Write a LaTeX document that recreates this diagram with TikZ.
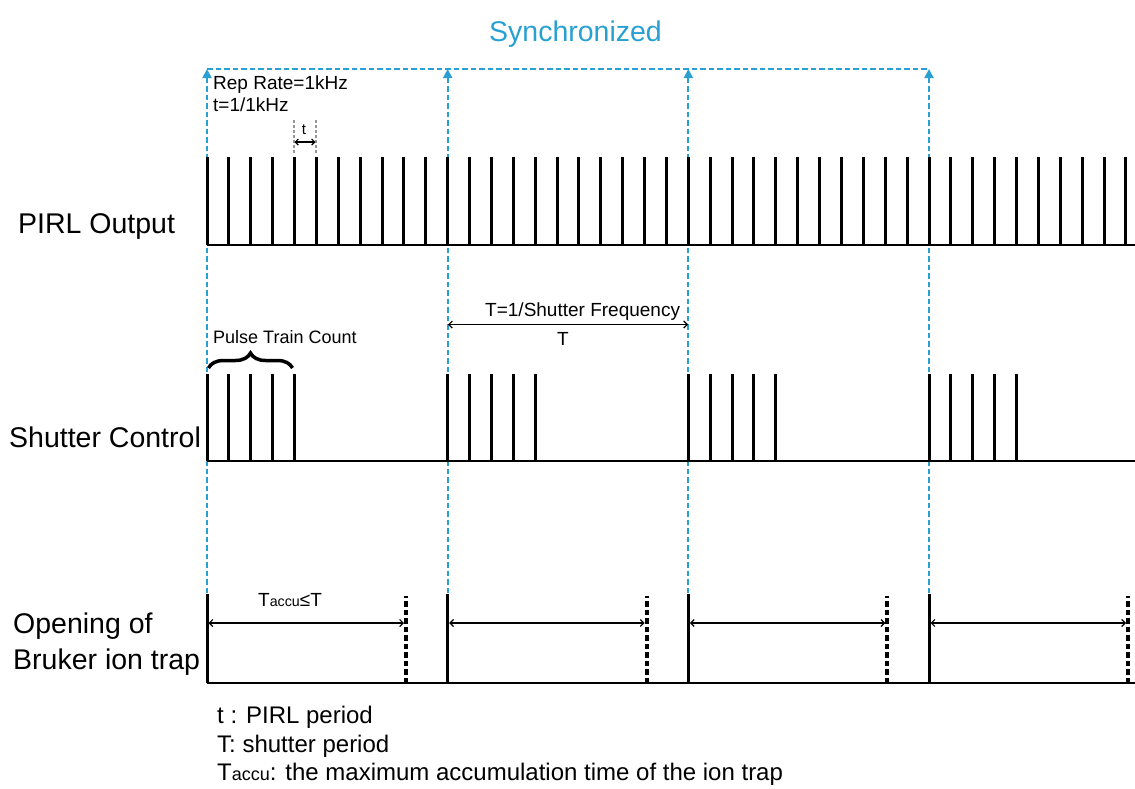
\documentclass[tikz,border=0pt]{standalone}
\usepackage{fontspec}
\setmainfont{Liberation Sans}
\usetikzlibrary{arrows.meta,decorations.pathreplacing}
\definecolor{syncblue}{RGB}{41,160,210}
\definecolor{markgray}{RGB}{150,150,150}
\newcommand{\fsz}[1]{\fontsize{#1}{#1}\selectfont}
\newcommand{\acc}{\scalebox{0.75}{accu}}
\begin{document}
\begin{tikzpicture}[x=1pt,y=-1pt,
  syncline/.style={draw=syncblue,line width=1.8pt,dash pattern=on 5.5pt off 3pt},
  synctip/.style={-{Triangle[width=9pt,length=9pt,fill=syncblue]}},
  pulse/.style={line width=3pt},
  axisline/.style={line width=2pt},
  stopline/.style={line width=4pt,dash pattern=on 5.5pt off 3pt},
  span/.style={line width=1.2pt,{Straight Barb[length=3.5pt,width=7pt]}-{Straight Barb[length=3.5pt,width=7pt]}},
  lbl/.style={inner sep=0pt,anchor=base west},
  ctr/.style={inner sep=0pt,anchor=base},
]
\useasboundingbox (0,0) rectangle (1135,788);

% --- synchronisation markers
\foreach \i in {0,1,2,3} {
  \pgfmathsetmacro\sx{207+\i*240.667}
  \coordinate (sb\i) at (\sx,593);
  \coordinate (st\i) at (\sx,69);
}
\draw[syncline] (st0) -- (st3);
\foreach \i in {0,1,2,3} {
  \draw[syncline,synctip] (sb\i) -- (st\i);
}
\node[ctr,font=\fsz{28.5},text=syncblue] (sync) at (575.5,41.5) {Synchronized};

% --- PIRL output
\coordinate (pa) at (207,245);
\coordinate (pb) at (1135,245);
\draw[axisline] (pa) -- (pb);
\foreach \k in {0,...,42} {
  \pgfmathsetmacro\px{207+\k*21.879}
  \draw[pulse] (\px,245) -- (\px,157);
}
\node[lbl,font=\fsz{28.5}] (pirl) at (18,233) {PIRL Output};
\node[lbl,font=\fsz{19}] (rep) at (213,89.5) {Rep Rate=1kHz};
\node[lbl,font=\fsz{19}] (tdef) at (213,111.7) {t=1/1kHz};

% period t marker
\coordinate (ta1) at (294,120);
\coordinate (tb1) at (294,153);
\coordinate (ta2) at (316,120);
\coordinate (tb2) at (316,153);
\draw[markgray,line width=1.2pt,dash pattern=on 3pt off 2pt] (ta1) -- (tb1) (ta2) -- (tb2);
\coordinate (tl1) at (294.5,142);
\coordinate (tl2) at (315.5,142);
\draw[line width=1.2pt,{Straight Barb[length=3pt,width=6pt]}-{Straight Barb[length=3pt,width=6pt]}] (tl1) -- (tl2);
\node[ctr,font=\fsz{15}] (tlab) at (304,134) {t};

% --- Shutter control
\coordinate (sa) at (207,461);
\coordinate (sbe) at (1135,461);
\draw[axisline] (sa) -- (sbe);
\foreach \i in {0,1,2,3} {
  \foreach \k in {0,...,4} {
    \pgfmathsetmacro\px{207+\i*240.667+\k*21.879}
    \draw[pulse] (\px,461) -- (\px,374);
  }
}
\node[lbl,font=\fsz{28.5}] (shut) at (9,447) {Shutter Control};
\coordinate (br1) at (208.5,368);
\coordinate (br2) at (292.5,368);
\draw[line width=3.5pt,decorate,decoration={brace,amplitude=15pt}] (br1) -- (br2);
\node[lbl,font=\fsz{18}] (ptc) at (213,343) {Pulse Train Count};

% shutter period
\coordinate (T1) at (448,324.5);
\coordinate (T2) at (688,324.5);
\draw[span] (T1) -- (T2);
\node[lbl,font=\fsz{19}] (tfreq) at (485,316.7) {T=1/Shutter Frequency};
\node[ctr,font=\fsz{19}] (Tlab) at (563,345) {T};

% --- Bruker ion trap
\coordinate (ba) at (207,683);
\coordinate (bb) at (1135,683);
\draw[axisline] (ba) -- (bb);
\foreach \i in {0,1,2,3} {
  \pgfmathsetmacro\sx{207+\i*240.667}
  \pgfmathsetmacro\ex{\sx+199}
  \draw[pulse] (\sx,683) -- (\sx,594);
  \draw[stopline] (\ex,683) -- (\ex,596);
  \coordinate (acc\i a) at (\sx+1.5,623);
  \coordinate (acc\i b) at (\ex-2,623);
  \draw[span] (acc\i a) -- (acc\i b);
}
\node[lbl,font=\fsz{19}] (taccu) at (258,606) {T\acc≤T};
\node[lbl,font=\fsz{28.5}] (open) at (13,633) {Opening of};
\node[lbl,font=\fsz{28.5}] (bruk) at (13,669) {Bruker ion trap};

% --- legend
\node[lbl,font=\fsz{24}] (leg1) at (217,723) {t : PIRL period};
\node[lbl,font=\fsz{24}] (leg2) at (217,752) {T: shutter period};
\node[lbl,font=\fsz{24}] (leg3) at (217,780) {T\acc: the maximum accumulation time of the ion trap};
\end{tikzpicture}
\end{document}
